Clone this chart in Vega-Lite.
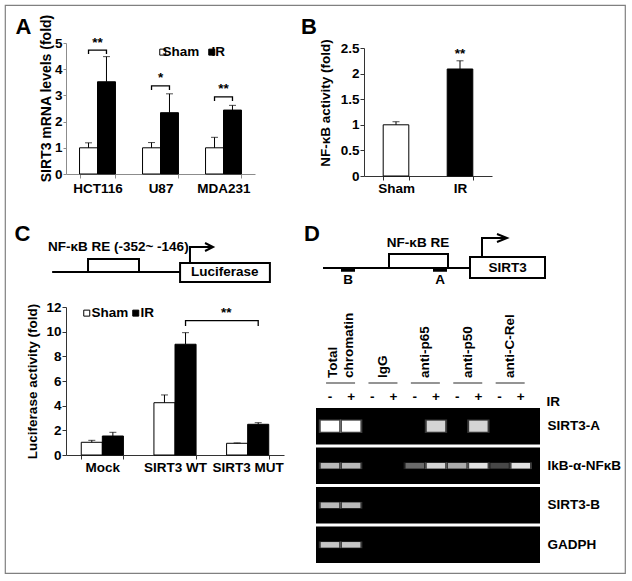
{
"$schema": "https://vega.github.io/schema/vega-lite/v6.json",
"width": 620, "height": 568,
"autosize": {"type": "none"},
"padding": {"left": 5, "top": 5, "right": 7, "bottom": 8},
"background": "white",
"config": {
  "font": "Liberation Sans",
  "view": {"stroke": "#808080", "strokeWidth": 1.2},
  "axis": {"labelFont": "Liberation Sans", "titleFont": "Liberation Sans", "labelFontWeight": "bold", "titleFontWeight": "bold", "labelColor": "black", "titleColor": "black", "grid": false, "domainColor": "#333333", "tickColor": "#333333", "labelFontSize": 13.5, "titleFontSize": 13.5},
  "legend": {"labelFont": "Liberation Sans", "labelFontWeight": "bold", "labelColor": "black", "labelFontSize": 13.5},
  "text": {"font": "Liberation Sans", "fontWeight": "bold", "fontSize": 13.5, "color": "black"}
},
"resolve": {"scale": {"x": "independent", "y": "independent", "fill": "independent", "xOffset": "independent", "shape": "independent", "opacity": "independent"}, "axis": {"x": "independent", "y": "independent"}, "legend": {"fill": "independent", "shape": "independent", "opacity": "independent"}},
"layer": [
  {"data": {"values": [
     {"cell": "HCT116", "treatment": "Sham", "fold": 1.0, "upper": 1.19},
     {"cell": "HCT116", "treatment": "IR", "fold": 3.52, "upper": 4.48},
     {"cell": "U87", "treatment": "Sham", "fold": 1.0, "upper": 1.2},
     {"cell": "U87", "treatment": "IR", "fold": 2.34, "upper": 3.06},
     {"cell": "MDA231", "treatment": "Sham", "fold": 1.0, "upper": 1.4},
     {"cell": "MDA231", "treatment": "IR", "fold": 2.44, "upper": 2.62}
   ]},
   "layer": [
    {"mark": {"type": "bar", "stroke": "black", "strokeWidth": 1},
     "encoding": {
      "x": {"field": "cell", "type": "nominal", "sort": ["HCT116", "U87", "MDA231"], "scale": {"range": [61, 250], "paddingInner": 0.43, "paddingOuter": 0.215},
            "axis": {"orient": "bottom", "offset": -399, "title": "A", "titleX": 10, "titleY": -141, "titleAlign": "left", "titleAngle": 0, "titleBaseline": "alphabetic", "titleFontSize": 22, "labelAngle": 0, "tickBand": "extent", "tickSize": 4, "labelPadding": 3, "domainColor": "#8c8c8c", "tickColor": "#8c8c8c"}},
      "xOffset": {"field": "treatment", "type": "nominal", "sort": ["Sham", "IR"]},
      "y": {"field": "fold", "type": "quantitative", "title": "SIRT3 mRNA levels (fold)", "scale": {"domain": [0, 5], "nice": false, "range": [169, 38]},
            "axis": {"orient": "left", "offset": -61, "values": [0, 1, 2, 3, 4, 5], "format": "~g", "titleFontSize": 14, "tickSize": 3, "labelPadding": 1, "titleX": -20, "titleY": 93, "titleBaseline": "middle", "domainColor": "#8c8c8c", "tickColor": "#8c8c8c"}},
      "fill": {"field": "treatment", "type": "nominal", "scale": {"domain": ["Sham", "IR"], "range": ["white", "black"]},
               "legend": {"orient": "none", "legendX": 151, "legendY": 40, "direction": "horizontal", "title": null, "symbolType": "square", "symbolSize": 36, "symbolStrokeColor": "black", "symbolStrokeWidth": 1, "labelOffset": -7, "columnPadding": 5, "padding": 0}}
     }},
    {"mark": {"type": "rule", "color": "black", "strokeWidth": 1},
     "encoding": {
      "x": {"field": "cell", "type": "nominal", "sort": ["HCT116", "U87", "MDA231"]},
      "xOffset": {"field": "treatment", "type": "nominal", "sort": ["Sham", "IR"]},
      "y": {"field": "fold", "type": "quantitative", "title": "SIRT3 mRNA levels (fold)"},
      "y2": {"field": "upper"}
     }},
    {"mark": {"type": "tick", "orient": "horizontal", "color": "black", "size": 7, "thickness": 1},
     "encoding": {
      "x": {"field": "cell", "type": "nominal", "sort": ["HCT116", "U87", "MDA231"]},
      "xOffset": {"field": "treatment", "type": "nominal", "sort": ["Sham", "IR"]},
      "y": {"field": "upper", "type": "quantitative", "title": "SIRT3 mRNA levels (fold)"}
     }},
    {"data": {"values": [
       {"cell": "HCT116", "treatment": "Sham", "fold": 4.58, "i": 1},
       {"cell": "HCT116", "treatment": "Sham", "fold": 4.73, "i": 2},
       {"cell": "HCT116", "treatment": "IR", "fold": 4.73, "i": 3},
       {"cell": "HCT116", "treatment": "IR", "fold": 4.58, "i": 4},
       {"cell": "U87", "treatment": "Sham", "fold": 3.21, "i": 1},
       {"cell": "U87", "treatment": "Sham", "fold": 3.36, "i": 2},
       {"cell": "U87", "treatment": "IR", "fold": 3.36, "i": 3},
       {"cell": "U87", "treatment": "IR", "fold": 3.21, "i": 4},
       {"cell": "MDA231", "treatment": "Sham", "fold": 2.79, "i": 1},
       {"cell": "MDA231", "treatment": "Sham", "fold": 2.94, "i": 2},
       {"cell": "MDA231", "treatment": "IR", "fold": 2.94, "i": 3},
       {"cell": "MDA231", "treatment": "IR", "fold": 2.79, "i": 4}
     ]},
     "mark": {"type": "line", "color": "black", "strokeWidth": 1.3},
     "encoding": {
      "x": {"field": "cell", "type": "nominal", "sort": ["HCT116", "U87", "MDA231"]},
      "xOffset": {"field": "treatment", "type": "nominal", "sort": ["Sham", "IR"]},
      "y": {"field": "fold", "type": "quantitative", "title": "SIRT3 mRNA levels (fold)"},
      "detail": {"field": "cell"},
      "order": {"field": "i"}
     }},
    {"data": {"values": [
       {"cell": "HCT116", "fold": 4.73, "label": "**"},
       {"cell": "U87", "fold": 3.36, "label": "*"},
       {"cell": "MDA231", "fold": 2.94, "label": "**"}
     ]},
     "mark": {"type": "text", "baseline": "alphabetic", "dy": -3.5, "fontSize": 13.5},
     "encoding": {
      "x": {"field": "cell", "type": "nominal", "sort": ["HCT116", "U87", "MDA231"]},
      "y": {"field": "fold", "type": "quantitative", "title": "SIRT3 mRNA levels (fold)"},
      "text": {"field": "label"}
     }}
   ]},
  {"data": {"values": [
     {"cond": "Sham", "nfkb": 1.0, "upperB": 1.06},
     {"cond": "IR", "nfkb": 2.09, "upperB": 2.25}
   ]},
   "layer": [
    {"mark": {"type": "bar", "stroke": "black", "strokeWidth": 1},
     "encoding": {
      "x": {"field": "cond", "type": "nominal", "sort": ["Sham", "IR"], "scale": {"range": [359, 487], "paddingInner": 0.6, "paddingOuter": 0.3},
            "axis": {"orient": "bottom", "offset": -397, "title": "B", "titleX": 295.5, "titleY": -143, "titleAlign": "left", "titleAngle": 0, "titleBaseline": "alphabetic", "titleFontSize": 22, "labelAngle": 0, "tickBand": "extent", "tickSize": 4, "labelPadding": 1}},
      "y": {"field": "nfkb", "type": "quantitative", "title": "NF-κB activity (fold)", "scale": {"domain": [0, 2.5], "nice": false, "range": [171, 43]},
            "axis": {"orient": "left", "offset": -359, "values": [0, 0.5, 1, 1.5, 2, 2.5], "format": "~g", "tickSize": 4, "labelPadding": 1, "titleX": -39, "titleY": 97.5, "titleBaseline": "middle"}},
      "fill": {"field": "cond", "type": "nominal", "scale": {"domain": ["Sham", "IR"], "range": ["white", "black"]}, "legend": null}
     }},
    {"mark": {"type": "rule", "color": "black", "strokeWidth": 1},
     "encoding": {
      "x": {"field": "cond", "type": "nominal", "sort": ["Sham", "IR"]},
      "y": {"field": "nfkb", "type": "quantitative", "title": "NF-κB activity (fold)"},
      "y2": {"field": "upperB"}
     }},
    {"mark": {"type": "tick", "orient": "horizontal", "color": "black", "size": 7, "thickness": 1},
     "encoding": {
      "x": {"field": "cond", "type": "nominal", "sort": ["Sham", "IR"]},
      "y": {"field": "upperB", "type": "quantitative", "title": "NF-κB activity (fold)"}
     }},
    {"data": {"values": [{"cond": "IR", "nfkb": 2.25, "label": "**"}]},
     "mark": {"type": "text", "baseline": "alphabetic", "dy": -2.5, "fontSize": 13.5},
     "encoding": {
      "x": {"field": "cond", "type": "nominal", "sort": ["Sham", "IR"]},
      "y": {"field": "nfkb", "type": "quantitative", "title": "NF-κB activity (fold)"},
      "text": {"field": "label"}
     }}
   ]},
  {"layer": [
    {"data": {"values": [{"pos": -497, "pos2": 20, "lvl": 0}]},
     "mark": {"type": "rule", "strokeWidth": 2, "color": "black"},
     "encoding": {
      "x": {"field": "pos", "type": "quantitative", "scale": {"domain": [-441, 440], "nice": false, "zero": false, "range": [61, 279]}, "axis": null},
      "x2": {"field": "pos2"},
      "y": {"field": "lvl", "type": "quantitative", "scale": {"domain": [-1.385, 2.846], "nice": false, "zero": false, "range": [285, 230]}, "axis": null}
     }},
    {"data": {"values": [
       {"element": "NF-κB RE", "pos": -352, "pos2": -146, "lvl": 0, "lvl2": 1},
       {"element": "Luciferase", "pos": 20, "pos2": 383, "lvl": -0.769, "lvl2": 0.692}
     ]},
     "mark": {"type": "rect", "fill": "white", "stroke": "black", "strokeWidth": 2},
     "encoding": {
      "x": {"field": "pos", "type": "quantitative"},
      "x2": {"field": "pos2"},
      "y": {"field": "lvl", "type": "quantitative"},
      "y2": {"field": "lvl2"}
     }},
    {"data": {"values": [{"label": "Luciferase", "pos": 201, "lvl": 0}]},
     "mark": {"type": "text", "align": "center", "baseline": "middle", "fontSize": 13.5},
     "encoding": {
      "x": {"field": "pos", "type": "quantitative"},
      "y": {"field": "lvl", "type": "quantitative"},
      "text": {"field": "label"}
     }},
    {"data": {"values": [{"label": "NF-κB RE (-352~ -146)", "pos": -514, "lvl": 1.923}]},
     "mark": {"type": "text", "align": "left", "baseline": "middle", "fontSize": 13.5},
     "encoding": {
      "x": {"field": "pos", "type": "quantitative"},
      "y": {"field": "lvl", "type": "quantitative"},
      "text": {"field": "label"}
     }},
    {"data": {"values": [
       {"pos": 60, "lvl": 0.692, "i": 1},
       {"pos": 60, "lvl": 1.923, "i": 2},
       {"pos": 145, "lvl": 1.923, "i": 3}
     ]},
     "mark": {"type": "line", "strokeWidth": 2, "color": "black"},
     "encoding": {
      "x": {"field": "pos", "type": "quantitative"},
      "y": {"field": "lvl", "type": "quantitative"},
      "order": {"field": "i"}
     }},
    {"data": {"values": [{"pos": 137, "lvl": 1.923}]},
     "mark": {"type": "point", "shape": "M-1,-1L1,0L-1,1", "filled": false, "size": 64, "stroke": "black", "strokeWidth": 2, "opacity": 1},
     "encoding": {
      "x": {"field": "pos", "type": "quantitative"},
      "y": {"field": "lvl", "type": "quantitative"}
     }}
   ]},
  {"data": {"values": [
     {"construct": "Mock", "treat": "Sham", "luc": 1.03, "upperC": 1.19},
     {"construct": "Mock", "treat": "IR", "luc": 1.54, "upperC": 1.84},
     {"construct": "SIRT3 WT", "treat": "Sham", "luc": 4.24, "upperC": 4.87},
     {"construct": "SIRT3 WT", "treat": "IR", "luc": 8.98, "upperC": 9.92},
     {"construct": "SIRT3 MUT", "treat": "Sham", "luc": 0.95, "upperC": 0.98},
     {"construct": "SIRT3 MUT", "treat": "IR", "luc": 2.49, "upperC": 2.62}
   ]},
   "layer": [
    {"mark": {"type": "bar", "stroke": "black", "strokeWidth": 1},
     "encoding": {
      "x": {"field": "construct", "type": "nominal", "sort": ["Mock", "SIRT3 WT", "SIRT3 MUT"], "scale": {"range": [61, 279], "paddingInner": 0.42, "paddingOuter": 0.21},
            "axis": {"orient": "bottom", "offset": -118, "title": "C", "titleX": 9, "titleY": -215, "titleAlign": "left", "titleAngle": 0, "titleBaseline": "alphabetic", "titleFontSize": 22, "labelAngle": 0, "tickBand": "extent", "tickSize": 4, "labelPadding": 1}},
      "xOffset": {"field": "treat", "type": "nominal", "sort": ["Sham", "IR"]},
      "y": {"field": "luc", "type": "quantitative", "title": "Luciferase activity (fold)", "scale": {"domain": [0, 12], "nice": false, "range": [450, 302]},
            "axis": {"orient": "left", "offset": -61, "values": [0, 2, 4, 6, 8, 10, 12], "format": "~g", "tickSize": 4, "labelPadding": 1, "titleX": -34, "titleY": 376, "titleBaseline": "middle"}},
      "fill": {"field": "treat", "type": "nominal", "scale": {"domain": ["Sham", "IR"], "range": ["white", "black"]},
               "legend": {"orient": "none", "legendX": 75, "legendY": 301, "direction": "horizontal", "title": null, "symbolType": "square", "symbolSize": 36, "symbolStrokeColor": "black", "symbolStrokeWidth": 1, "labelOffset": -2, "columnPadding": 0, "padding": 0}}
     }},
    {"mark": {"type": "rule", "color": "black", "strokeWidth": 1},
     "encoding": {
      "x": {"field": "construct", "type": "nominal", "sort": ["Mock", "SIRT3 WT", "SIRT3 MUT"]},
      "xOffset": {"field": "treat", "type": "nominal", "sort": ["Sham", "IR"]},
      "y": {"field": "luc", "type": "quantitative", "title": "Luciferase activity (fold)"},
      "y2": {"field": "upperC"}
     }},
    {"mark": {"type": "tick", "orient": "horizontal", "color": "black", "size": 7, "thickness": 1},
     "encoding": {
      "x": {"field": "construct", "type": "nominal", "sort": ["Mock", "SIRT3 WT", "SIRT3 MUT"]},
      "xOffset": {"field": "treat", "type": "nominal", "sort": ["Sham", "IR"]},
      "y": {"field": "upperC", "type": "quantitative", "title": "Luciferase activity (fold)"}
     }},
    {"data": {"values": [
       {"construct": "SIRT3 WT", "treat": "IR", "luc": 10.46, "i": 1},
       {"construct": "SIRT3 WT", "treat": "IR", "luc": 10.9, "i": 2},
       {"construct": "SIRT3 MUT", "treat": "IR", "luc": 10.9, "i": 3},
       {"construct": "SIRT3 MUT", "treat": "IR", "luc": 10.46, "i": 4}
     ]},
     "mark": {"type": "line", "color": "black", "strokeWidth": 1.3},
     "encoding": {
      "x": {"field": "construct", "type": "nominal", "sort": ["Mock", "SIRT3 WT", "SIRT3 MUT"]},
      "xOffset": {"field": "treat", "type": "nominal", "sort": ["Sham", "IR"]},
      "y": {"field": "luc", "type": "quantitative", "title": "Luciferase activity (fold)"},
      "order": {"field": "i"}
     }},
    {"data": {"values": [{"construct": "SIRT3 MUT", "treat": "Sham", "luc": 10.9, "label": "**"}]},
     "mark": {"type": "text", "baseline": "alphabetic", "dx": -11, "dy": -4, "fontSize": 13.5},
     "encoding": {
      "x": {"field": "construct", "type": "nominal", "sort": ["Mock", "SIRT3 WT", "SIRT3 MUT"]},
      "xOffset": {"field": "treat", "type": "nominal", "sort": ["Sham", "IR"]},
      "y": {"field": "luc", "type": "quantitative", "title": "Luciferase activity (fold)"},
      "text": {"field": "label"}
     }}
   ]},
  {"layer": [
    {"data": {"values": [{"pos": -636, "pos2": -48, "lvl": 0}]},
     "mark": {"type": "rule", "strokeWidth": 2, "color": "black"},
     "encoding": {
      "x": {"field": "pos", "type": "quantitative", "scale": {"domain": [-664, 232], "nice": false, "zero": false, "range": [311, 535]}, "axis": null},
      "x2": {"field": "pos2"},
      "y": {"field": "lvl", "type": "quantitative", "scale": {"domain": [-1.571, 2.357], "nice": false, "zero": false, "range": [285, 230]}, "axis": null}
     }},
    {"data": {"values": [{"primer": "B", "pos": -564, "pos2": -508, "lvl": -0.143}, {"primer": "A", "pos": -196, "pos2": -140, "lvl": -0.143}]},
     "mark": {"type": "rule", "strokeWidth": 3.5, "color": "black"},
     "encoding": {
      "x": {"field": "pos", "type": "quantitative"},
      "x2": {"field": "pos2"},
      "y": {"field": "lvl", "type": "quantitative"}
     }},
    {"data": {"values": [
       {"element": "NF-κB RE", "pos": -372, "pos2": -136, "lvl": 0, "lvl2": 1},
       {"element": "SIRT3", "pos": -48, "pos2": 252, "lvl": -0.714, "lvl2": 0.786}
     ]},
     "mark": {"type": "rect", "fill": "white", "stroke": "black", "strokeWidth": 2},
     "encoding": {
      "x": {"field": "pos", "type": "quantitative"},
      "x2": {"field": "pos2"},
      "y": {"field": "lvl", "type": "quantitative"},
      "y2": {"field": "lvl2"}
     }},
    {"data": {"values": [
       {"label": "SIRT3", "pos": 102, "lvl": 0},
       {"label": "NF-κB RE", "pos": -256, "lvl": 1.786},
       {"label": "B", "pos": -536, "lvl": -0.857},
       {"label": "A", "pos": -168, "lvl": -0.857}
     ]},
     "mark": {"type": "text", "align": "center", "baseline": "middle", "fontSize": 13.5},
     "encoding": {
      "x": {"field": "pos", "type": "quantitative"},
      "y": {"field": "lvl", "type": "quantitative"},
      "text": {"field": "label"}
     }},
    {"data": {"values": [
       {"pos": 0, "lvl": 0.786, "i": 1},
       {"pos": 0, "lvl": 2.143, "i": 2},
       {"pos": 92, "lvl": 2.143, "i": 3}
     ]},
     "mark": {"type": "line", "strokeWidth": 2, "color": "black"},
     "encoding": {
      "x": {"field": "pos", "type": "quantitative"},
      "y": {"field": "lvl", "type": "quantitative"},
      "order": {"field": "i"}
     }},
    {"data": {"values": [{"pos": 80, "lvl": 2.143}]},
     "mark": {"type": "point", "shape": "M-1,-0.8L1,0L-1,0.8", "filled": false, "size": 100, "stroke": "black", "strokeWidth": 2, "opacity": 1},
     "encoding": {
      "x": {"field": "pos", "type": "quantitative"},
      "y": {"field": "lvl", "type": "quantitative"}
     }}
   ]},
  {"data": {"values": [
     {"grp": "Total chromatin", "label": "Total\nchromatin"},
     {"grp": "IgG", "label": "IgG"},
     {"grp": "anti-p65", "label": "anti-p65"},
     {"grp": "anti-p50", "label": "anti-p50"},
     {"grp": "anti-C-Rel", "label": "anti-C-Rel"}
   ]},
   "layer": [
    {"transform": [{"filter": "datum.grp !== 'Total chromatin'"}],
     "mark": {"type": "text", "angle": 270, "align": "left", "baseline": "middle", "dx": 5, "fontSize": 13.5},
     "encoding": {
      "x": {"field": "grp", "type": "nominal", "sort": ["Total chromatin", "IgG", "anti-p65", "anti-p50", "anti-C-Rel"], "scale": {"type": "band", "range": [311, 535], "paddingInner": 0, "paddingOuter": 0.1415, "align": 0.28}, "axis": null},
      "y": {"datum": 0, "type": "quantitative", "scale": {"domain": [0, 1], "range": [378, 310]}, "axis": null},
      "text": {"field": "label"}
     }},
    {"transform": [{"filter": "datum.grp === 'Total chromatin'"}],
     "mark": {"type": "text", "angle": 270, "align": "left", "baseline": "middle", "dx": 5, "dy": -8, "fontSize": 13.5, "lineBreak": "\n", "lineHeight": 16},
     "encoding": {
      "x": {"field": "grp", "type": "nominal", "sort": ["Total chromatin", "IgG", "anti-p65", "anti-p50", "anti-C-Rel"]},
      "y": {"datum": 0, "type": "quantitative"},
      "text": {"field": "label"}
     }},
    {"mark": {"type": "tick", "orient": "horizontal", "size": 29, "thickness": 1.2, "color": "black"},
     "encoding": {
      "x": {"field": "grp", "type": "nominal", "sort": ["Total chromatin", "IgG", "anti-p65", "anti-p50", "anti-C-Rel"]},
      "y": {"datum": 0, "type": "quantitative"}
     }}
   ]},
  {"resolve": {"scale": {"x": "independent"}, "axis": {"x": "independent"}},
   "layer": [
    {"data": {"values": [{"row": "SIRT3-A"}, {"row": "IkB-α-NFκB"}, {"row": "SIRT3-B"}, {"row": "GADPH"}]},
     "mark": {"type": "rect", "fill": "black"},
     "encoding": {
      "x": {"datum": 0, "type": "quantitative", "scale": {"domain": [0, 1], "range": [311, 535]}, "axis": null},
      "x2": {"datum": 1},
      "y": {"field": "row", "type": "nominal", "scale": {"domain": ["SIRT3-A", "IkB-α-NFκB", "SIRT3-B", "GADPH"], "range": [403, 558], "paddingInner": 0.08, "paddingOuter": 0},
            "axis": {"orient": "right", "offset": -85, "title": "D", "titleX": -236.5, "titleY": 235, "titleAlign": "left", "titleAngle": 0, "titleBaseline": "alphabetic", "titleFontSize": 22, "domain": false, "ticks": false, "labelPadding": 7}}
     }},
    {"data": {"values": [
       {"row": "SIRT3-A", "lane": "TC-", "intensity": 1},
       {"row": "SIRT3-A", "lane": "TC+", "intensity": 1},
       {"row": "SIRT3-A", "lane": "p65+", "intensity": 0.85},
       {"row": "SIRT3-A", "lane": "p50+", "intensity": 0.85},
       {"row": "IkB-α-NFκB", "lane": "TC-", "intensity": 0.75},
       {"row": "IkB-α-NFκB", "lane": "TC+", "intensity": 0.75},
       {"row": "IkB-α-NFκB", "lane": "p65-", "intensity": 0.45},
       {"row": "IkB-α-NFκB", "lane": "p65+", "intensity": 0.85},
       {"row": "IkB-α-NFκB", "lane": "p50-", "intensity": 0.7},
       {"row": "IkB-α-NFκB", "lane": "p50+", "intensity": 0.9},
       {"row": "IkB-α-NFκB", "lane": "Rel-", "intensity": 0.3},
       {"row": "IkB-α-NFκB", "lane": "Rel+", "intensity": 0.9},
       {"row": "SIRT3-B", "lane": "TC-", "intensity": 0.75},
       {"row": "SIRT3-B", "lane": "TC+", "intensity": 0.75},
       {"row": "GADPH", "lane": "TC-", "intensity": 0.8},
       {"row": "GADPH", "lane": "TC+", "intensity": 0.8}
     ]},
     "encoding": {
      "x": {"field": "lane", "type": "nominal", "scale": {"type": "band", "domain": ["TC-", "TC+", "IgG-", "IgG+", "p65-", "p65+", "p50-", "p50+", "Rel-", "Rel+"], "range": [311, 535], "paddingInner": 0, "paddingOuter": 0.283, "align": 0.28},
            "axis": {"orient": "top", "offset": -403, "title": "IR", "labelExpr": "slice(datum.value, -1)", "labelAngle": 0, "domain": false, "ticks": false, "labelPadding": 5, "titleX": 541, "titleY": -3, "titleAlign": "left", "titleAngle": 0, "titleBaseline": "alphabetic"}},
      "y": {"field": "row", "type": "nominal", "scale": {"domain": ["SIRT3-A", "IkB-α-NFκB", "SIRT3-B", "GADPH"]},
            "axis": {"orient": "right", "offset": -85, "title": "D", "titleX": -236.5, "titleY": 235, "titleAlign": "left", "titleAngle": 0, "titleBaseline": "alphabetic", "titleFontSize": 22, "domain": false, "ticks": false, "labelPadding": 7}},
      "shape": {"field": "row", "type": "nominal", "scale": {"domain": ["SIRT3-A", "IkB-α-NFκB", "SIRT3-B", "GADPH"], "range": ["M-1,-0.6L1,-0.6L1,0.6L-1,0.6Z", "M-1,-0.3L1,-0.3L1,0.3L-1,0.3Z", "M-1,-0.3L1,-0.3L1,0.3L-1,0.3Z", "M-1,-0.3L1,-0.3L1,0.3L-1,0.3Z"]}, "legend": null}
     },
     "layer": [
      {"mark": {"type": "point", "filled": true, "size": 500, "fill": "#bdbdbd"},
       "encoding": {"opacity": {"field": "intensity", "type": "quantitative", "scale": {"domain": [0, 1], "range": [0, 0.35]}, "legend": null}}},
      {"mark": {"type": "point", "filled": true, "size": 340, "opacity": 1},
       "encoding": {"fill": {"field": "intensity", "type": "quantitative", "scale": {"domain": [0, 1], "range": ["#000000", "#ffffff"]}, "legend": null}}}
     ]}
   ]}
]
}
